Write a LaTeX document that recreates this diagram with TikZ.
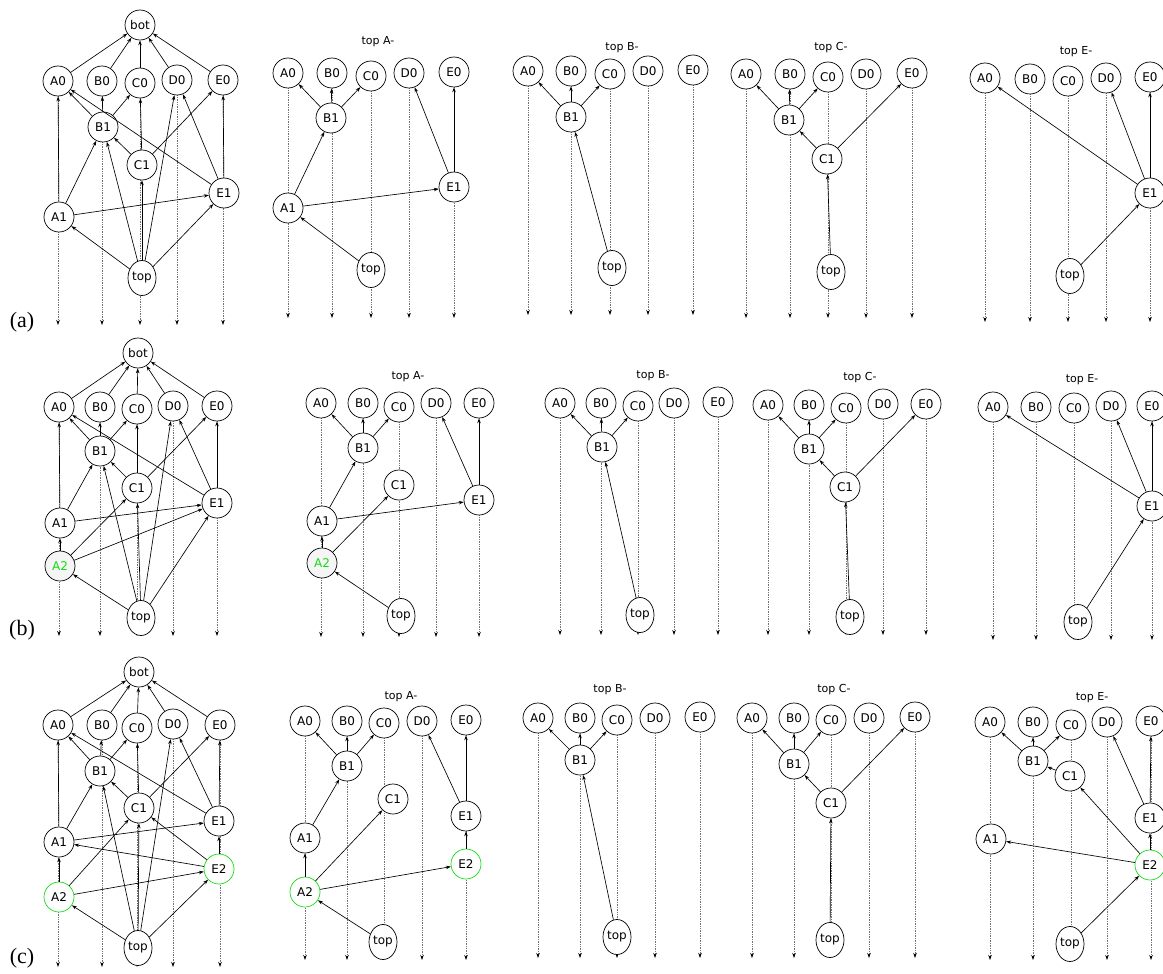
\documentclass[tikz,border=0pt]{standalone}
\usepackage{fontspec}
\setsansfont{DejaVu Sans}
\newfontfamily\labfont{Liberation Serif}
\usetikzlibrary{arrows.meta,shapes.geometric,backgrounds}
\definecolor{newgreen}{RGB}{20,220,20}

\begin{document}
\begin{tikzpicture}[x=1pt, y=-1pt,
    vtx/.style={draw, circle, fill=white, minimum size=30pt, inner sep=0pt, line width=0.7pt,
        font=\sffamily\fontsize{12}{14}\selectfont},
    vtxtop/.style={vtx, ellipse, minimum width=28pt, minimum height=35pt},
    newvtx/.style={vtx, draw=newgreen},
    greyvtx/.style={vtx, fill=gray!8, text=newgreen},
    link/.style={-{Stealth[length=5pt, width=3.5pt]}, line width=0.65pt},
    life/.style={densely dotted, black!55, line width=0.7pt, -{Stealth[length=5pt, width=3.5pt, color=black]}},
    ttl/.style={font=\sffamily\fontsize{11}{13}\selectfont},
    lab/.style={font=\labfont\fontsize{22}{26}\selectfont}]
    \useasboundingbox (0,0) rectangle (1163,974);

    % ---------------- row (a) ----------------
    \node[lab] (la) at (22,322) {(a)};

    % full order
    \node[vtx] (aM-bot) at (140,25) {bot};
    \node[vtx] (aM-A0) at (58,81) {A0};
    \node[vtx] (aM-B0) at (102,81) {B0};
    \node[vtx] (aM-C0) at (140,83) {C0};
    \node[vtx] (aM-D0) at (177,80) {D0};
    \node[vtx] (aM-E0) at (223,80) {E0};
    \node[vtx] (aM-B1) at (103,127) {B1};
    \node[vtx] (aM-C1) at (142,165) {C1};
    \node[vtx] (aM-E1) at (224,193) {E1};
    \node[vtx] (aM-A1) at (59,217) {A1};
    \node[vtxtop] (aM-top) at (142,278) {top};
    \coordinate (aM-end) at (0,325);
    \foreach \c in {A,B,C,D,E} \draw[link] (aM-\c0) -- (aM-bot);
    \foreach \s/\t in {B1/A0,B1/B0,B1/C0,A1/A0,A1/B1,A1/E1,C1/B1,C1/C0,C1/E0,
        E1/A0,E1/D0,E1/E0,top/A1,top/B1,top/C1,top/D0,top/E1}
        \draw[link] (aM-\s) -- (aM-\t);

    % top A-
    \node[ttl] (aA-ttl) at (378,42) {top A-};
    \node[vtx] (aA-A0) at (288,73) {A0};
    \node[vtx] (aA-B0) at (332,73) {B0};
    \node[vtx] (aA-C0) at (371,76) {C0};
    \node[vtx] (aA-D0) at (409,73) {D0};
    \node[vtx] (aA-E0) at (454,72) {E0};
    \node[vtx] (aA-B1) at (331,118) {B1};
    \node[vtx] (aA-E1) at (454,187) {E1};
    \node[vtx] (aA-A1) at (288,208) {A1};
    \node[vtxtop] (aA-top) at (371,270) {top};
    \coordinate (aA-end) at (0,318);
    \foreach \s/\t in {B1/A0,B1/B0,B1/C0,A1/B1,A1/E1,top/A1,E1/D0,E1/E0}
        \draw[link] (aA-\s) -- (aA-\t);

    % top B-
    \node[ttl] (aB-ttl) at (622,48) {top B-};
    \node[vtx] (aB-A0) at (528,71) {A0};
    \node[vtx] (aB-B0) at (571,71) {B0};
    \node[vtx] (aB-C0) at (610,74) {C0};
    \node[vtx] (aB-D0) at (648,71) {D0};
    \node[vtx] (aB-E0) at (693,70) {E0};
    \node[vtx] (aB-B1) at (571,117) {B1};
    \node[vtxtop] (aB-top) at (612,268) {top};
    \coordinate (aB-end) at (0,315);
    \foreach \s/\t in {B1/A0,B1/B0,B1/C0,top/B1}
        \draw[link] (aB-\s) -- (aB-\t);

    % top C-
    \node[ttl] (aC-ttl) at (831,48) {top C-};
    \node[vtx] (aC-A0) at (746,74) {A0};
    \node[vtx] (aC-B0) at (790,74) {B0};
    \node[vtx] (aC-C0) at (828,77) {C0};
    \node[vtx] (aC-D0) at (866,74) {D0};
    \node[vtx] (aC-E0) at (912,73) {E0};
    \node[vtx] (aC-B1) at (789,120) {B1};
    \node[vtx] (aC-C1) at (827,159) {C1};
    \node[vtxtop] (aC-top) at (831,272) {top};
    \coordinate (aC-end) at (0,318);
    \foreach \s/\t in {B1/A0,B1/B0,B1/C0,C1/B1,C1/E0,top/C1}
        \draw[link] (aC-\s) -- (aC-\t);

    % top E-
    \node[ttl] (aE-ttl) at (1076,52) {top E-};
    \node[vtx] (aE-A0) at (985,78) {A0};
    \node[vtx] (aE-B0) at (1030,79) {B0};
    \node[vtx] (aE-C0) at (1068,81) {C0};
    \node[vtx] (aE-D0) at (1106,78) {D0};
    \node[vtx] (aE-E0) at (1150,77) {E0};
    \node[vtx] (aE-E1) at (1150,193) {E1};
    \node[vtxtop] (aE-top) at (1070,276) {top};
    \coordinate (aE-end) at (0,322);
    \foreach \s/\t in {E1/A0,E1/D0,E1/E0,top/E1}
        \draw[link] (aE-\s) -- (aE-\t);

    % ---------------- row (b) ----------------
    \node[lab] (lb) at (22,630) {(b)};

    % full order
    \node[vtx] (bM-bot) at (138,353) {bot};
    \node[vtx] (bM-A0) at (59,407) {A0};
    \node[vtx] (bM-B0) at (100,407) {B0};
    \node[vtx] (bM-C0) at (137,409) {C0};
    \node[vtx] (bM-D0) at (173,406) {D0};
    \node[vtx] (bM-E0) at (217,406) {E0};
    \node[vtx] (bM-B1) at (100,451) {B1};
    \node[vtx] (bM-C1) at (137,488) {C1};
    \node[vtx] (bM-E1) at (217,503) {E1};
    \node[vtx] (bM-A1) at (60,523) {A1};
    \node[greyvtx] (bM-A2) at (60,566) {A2};
    \node[vtxtop] (bM-top) at (141,618) {top};
    \coordinate (bM-end) at (0,636);
    \foreach \c in {A,B,C,D,E} \draw[link] (bM-\c0) -- (bM-bot);
    \foreach \s/\t in {B1/A0,B1/B0,B1/C0,A1/A0,A1/B1,A1/E1,C1/B1,C1/C0,C1/E0,
        E1/A0,E1/D0,E1/E0,A2/A1,A2/C1,A2/E1,top/A2,top/B1,top/C1,top/D0,top/E1}
        \draw[link] (bM-\s) -- (bM-\t);

    % top A-
    \node[ttl] (bA-ttl) at (408,377) {top A-};
    \node[vtx] (bA-A0) at (321,403) {A0};
    \node[vtx] (bA-B0) at (363,403) {B0};
    \node[vtx] (bA-C0) at (399,407) {C0};
    \node[vtx] (bA-D0) at (436,403) {D0};
    \node[vtx] (bA-E0) at (479,403) {E0};
    \node[vtx] (bA-B1) at (363,448) {B1};
    \node[vtx] (bA-C1) at (399,485) {C1};
    \node[vtx] (bA-E1) at (479,500) {E1};
    \node[vtx] (bA-A1) at (322,521) {A1};
    \node[greyvtx] (bA-A2) at (322,563) {A2};
    \node[vtxtop] (bA-top) at (401,616) {top};
    \coordinate (bA-end) at (0,637);
    \foreach \s/\t in {B1/A0,B1/B0,B1/C0,A1/B1,A1/E1,A2/A1,A2/C1,top/A2,E1/D0,E1/E0}
        \draw[link] (bA-\s) -- (bA-\t);

    % top B-
    \node[ttl] (bB-ttl) at (653,376) {top B-};
    \node[vtx] (bB-A0) at (560,403) {A0};
    \node[vtx] (bB-B0) at (601,403) {B0};
    \node[vtx] (bB-C0) at (638,406) {C0};
    \node[vtx] (bB-D0) at (674,403) {D0};
    \node[vtx] (bB-E0) at (718,402) {E0};
    \node[vtx] (bB-B1) at (602,447) {B1};
    \node[vtxtop] (bB-top) at (640,615) {top};
    \coordinate (bB-end) at (0,635);
    \foreach \s/\t in {B1/A0,B1/B0,B1/C0,top/B1}
        \draw[link] (bB-\s) -- (bB-\t);

    % top C-
    \node[ttl] (bC-ttl) at (860,378) {top C-};
    \node[vtx] (bC-A0) at (768,405) {A0};
    \node[vtx] (bC-B0) at (809,405) {B0};
    \node[vtx] (bC-C0) at (846,408) {C0};
    \node[vtx] (bC-D0) at (883,404) {D0};
    \node[vtx] (bC-E0) at (926,404) {E0};
    \node[vtx] (bC-B1) at (809,449) {B1};
    \node[vtx] (bC-C1) at (845,487) {C1};
    \node[vtxtop] (bC-top) at (850,617) {top};
    \coordinate (bC-end) at (0,635);
    \foreach \s/\t in {B1/A0,B1/B0,B1/C0,C1/B1,C1/E0,top/C1}
        \draw[link] (bC-\s) -- (bC-\t);

    % top E-
    \node[ttl] (bE-ttl) at (1082,380) {top E-};
    \node[vtx] (bE-A0) at (993,407) {A0};
    \node[vtx] (bE-B0) at (1036,407) {B0};
    \node[vtx] (bE-C0) at (1074,408) {C0};
    \node[vtx] (bE-D0) at (1111,406) {D0};
    \node[vtx] (bE-E0) at (1152,406) {E0};
    \node[vtx] (bE-E1) at (1152,506) {E1};
    \node[vtxtop] (bE-top) at (1078,622) {top};
    \coordinate (bE-end) at (0,640);
    \foreach \s/\t in {E1/A0,E1/D0,E1/E0,top/E1}
        \draw[link] (bE-\s) -- (bE-\t);

    % ---------------- row (c) ----------------
    \node[lab] (lc) at (22,958) {(c)};

    % full order
    \node[vtx] (cM-bot) at (139,672) {bot};
    \node[vtx] (cM-A0) at (58,725) {A0};
    \node[vtx] (cM-B0) at (102,725) {B0};
    \node[vtx] (cM-C0) at (137,728) {C0};
    \node[vtx] (cM-D0) at (173,724) {D0};
    \node[vtx] (cM-E0) at (220,725) {E0};
    \node[vtx] (cM-B1) at (100,771) {B1};
    \node[vtx] (cM-C1) at (139,808) {C1};
    \node[vtx] (cM-E1) at (219,821) {E1};
    \node[vtx] (cM-A1) at (59,842) {A1};
    \node[newvtx] (cM-E2) at (219,869) {E2};
    \node[newvtx] (cM-A2) at (59,897) {A2};
    \node[vtxtop] (cM-top) at (138,948) {top};
    \coordinate (cM-end) at (0,967);
    \foreach \c in {A,B,C,D,E} \draw[link] (cM-\c0) -- (cM-bot);
    \foreach \s/\t in {B1/A0,B1/B0,B1/C0,A1/A0,A1/B1,A1/E1,C1/B1,C1/C0,C1/E0,
        E1/A0,E1/D0,E1/E0,A2/A1,A2/C1,A2/E2,E2/E1,E2/A1,E2/C1,
        top/A2,top/B1,top/C1,top/D0,top/E2}
        \draw[link] (cM-\s) -- (cM-\t);

    % top A-
    \node[ttl] (cA-ttl) at (401,697) {top A-};
    \node[vtx] (cA-A0) at (305,721) {A0};
    \node[vtx] (cA-B0) at (347,721) {B0};
    \node[vtx] (cA-C0) at (384,723) {C0};
    \node[vtx] (cA-D0) at (422,721) {D0};
    \node[vtx] (cA-E0) at (466,720) {E0};
    \node[vtx] (cA-B1) at (347,766) {B1};
    \node[vtx] (cA-C1) at (393,799) {C1};
    \node[vtx] (cA-E1) at (466,816) {E1};
    \node[vtx] (cA-A1) at (305,838) {A1};
    \node[newvtx] (cA-E2) at (466,864) {E2};
    \node[newvtx] (cA-A2) at (305,892) {A2};
    \node[vtxtop] (cA-top) at (383,942) {top};
    \coordinate (cA-end) at (0,960);
    \foreach \s/\t in {B1/A0,B1/B0,B1/C0,A1/B1,A2/A1,A2/C1,A2/E2,E2/E1,E1/D0,E1/E0,top/A2}
        \draw[link] (cA-\s) -- (cA-\t);

    % top B-
    \node[ttl] (cB-ttl) at (610,690) {top B-};
    \node[vtx] (cB-A0) at (538,718) {A0};
    \node[vtx] (cB-B0) at (580,718) {B0};
    \node[vtx] (cB-C0) at (617,720) {C0};
    \node[vtx] (cB-D0) at (655,718) {D0};
    \node[vtx] (cB-E0) at (700,717) {E0};
    \node[vtx] (cB-B1) at (580,760) {B1};
    \node[vtxtop] (cB-top) at (617,937) {top};
    \coordinate (cB-end) at (0,958);
    \foreach \s/\t in {B1/A0,B1/B0,B1/C0,top/B1}
        \draw[link] (cB-\s) -- (cB-\t);

    % top C-
    \node[ttl] (cC-ttl) at (834,690) {top C-};
    \node[vtx] (cC-A0) at (752,718) {A0};
    \node[vtx] (cC-B0) at (794,718) {B0};
    \node[vtx] (cC-C0) at (831,720) {C0};
    \node[vtx] (cC-D0) at (869,718) {D0};
    \node[vtx] (cC-E0) at (915,717) {E0};
    \node[vtx] (cC-B1) at (794,764) {B1};
    \node[vtx] (cC-C1) at (831,803) {C1};
    \node[vtxtop] (cC-top) at (830,940) {top};
    \coordinate (cC-end) at (0,958);
    \foreach \s/\t in {B1/A0,B1/B0,B1/C0,C1/B1,C1/E0,top/C1}
        \draw[link] (cC-\s) -- (cC-\t);

    % top E-
    \node[ttl] (cE-ttl) at (1092,698) {top E-};
    \node[vtx] (cE-A0) at (990,722) {A0};
    \node[vtx] (cE-B0) at (1033,722) {B0};
    \node[vtx] (cE-C0) at (1071,725) {C0};
    \node[vtx] (cE-D0) at (1107,722) {D0};
    \node[vtx] (cE-E0) at (1151,721) {E0};
    \node[vtx] (cE-B1) at (1033,761) {B1};
    \node[vtx] (cE-C1) at (1070,776) {C1};
    \node[vtx] (cE-E1) at (1150,818) {E1};
    \node[vtx] (cE-A1) at (991,839) {A1};
    \node[newvtx] (cE-E2) at (1150,865) {E2};
    \node[vtxtop] (cE-top) at (1070,944) {top};
    \coordinate (cE-end) at (0,960);
    \foreach \s/\t in {B1/A0,B1/B0,B1/C0,C1/B1,E2/C1,E2/A1,E2/E1,E1/D0,E1/E0,top/E2}
        \draw[link] (cE-\s) -- (cE-\t);

    % dotted life lines behind the nodes
    \begin{pgfonlayer}{background}
        \foreach \p in {aM,aA,aB,aC,aE,bM,bA,bB,bC,bE,cM,cA,cB,cC,cE}
            \foreach \c in {A,B,C,D,E}
                \draw[life] (\p-\c0) -- (\p-\c0 |- \p-end);
    \end{pgfonlayer}
\end{tikzpicture}
\end{document}
